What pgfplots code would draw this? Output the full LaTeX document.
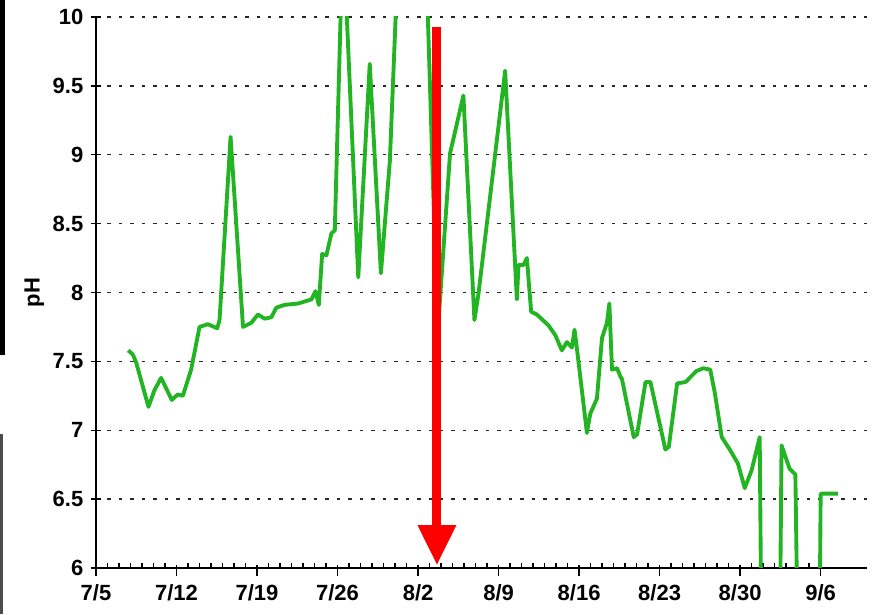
\documentclass[border=0pt]{standalone}
\usepackage{fontspec}
\setmainfont{Liberation Sans}
\usepackage{pgfplots}
\pgfplotsset{compat=1.18}
\usetikzlibrary{arrows.meta}

\definecolor{phgreen}{RGB}{34,180,34}

\begin{document}
\begin{tikzpicture}
% frame of the 874x614 px picture (1 px = 0.75pt)
\useasboundingbox (0,0) rectangle (655.5pt,460.5pt);
% remnants of the cropped neighbour at the left edge
\fill[black] (0,460.5pt) rectangle (3.75pt,194pt);
\fill[black!70] (0,135pt) rectangle (2.25pt,0);

\begin{axis}[
    at={(72pt,34.5pt)}, anchor=south west,
    scale only axis,
    width=578pt, height=413.25pt,
    xmin=0, xmax=67,
    ymin=6, ymax=10,
    axis x line*=bottom, axis y line*=left,
    axis line style={black, line width=1.4pt, -},
    xtick={0,7,...,63},
    xticklabels={7/5,7/12,7/19,7/26,8/2,8/9,8/16,8/23,8/30,9/6},
    minor x tick num=6,
    ytick={6,6.5,...,10},
    x tick style={black, line width=1pt},
    y tick style={black, line width=1pt},
    xtick align=inside,
    ytick align=center,
    major tick length=8pt,
    minor tick length=3.8pt,
    every major x tick/.append style={yshift=-6pt},
    ymajorgrids=true,
    grid style={black!85, line width=1pt, dash pattern=on 2.6pt off 6pt},
    /pgf/number format/assume math mode=true,
    ticklabel style={font=\fontsize{16.5}{18}\selectfont\bfseries},
    xticklabel style={yshift=-9pt},
    yticklabel style={xshift=-2pt},
    ylabel={pH},
    every axis y label/.style={at={(axis description cs:-0.08,0.5)},
        rotate=90, anchor=center, font=\fontsize{16.5}{18}\selectfont\bfseries},
]
\addplot[phgreen, line width=2.9pt, line join=round] coordinates {
(2.8,7.58)(3.2,7.55)(3.5,7.49)(4.56,7.17)(5.08,7.29)(5.66,7.38)(6.59,7.22)
(7.11,7.26)(7.55,7.25)(8.27,7.44)(9.0,7.75)(9.73,7.77)(10.54,7.74)(10.74,7.80)
(11.7,9.13)(12.78,7.75)(13.5,7.78)(14.08,7.84)(14.66,7.81)(15.24,7.82)
(15.68,7.89)(16.4,7.91)(17.57,7.92)(18.73,7.95)(19.08,8.01)(19.37,7.91)
(19.66,8.28)(20.03,8.27)(20.47,8.43)(20.76,8.45)(21.28,10.05)(21.78,10.05)
(22.8,8.11)(23.8,9.66)(24.77,8.14)(25.55,8.96)(26.05,10.0)(27.4,12.0)
(28.85,10.0)(29.7,7.7)(30.78,9.01)(31.94,9.43)(32.9,7.80)(33.25,7.99)
(35.57,9.61)(36.59,7.95)(36.73,8.20)(37.17,8.20)(37.46,8.25)(37.83,7.86)
(38.33,7.84)(39.35,7.76)(39.93,7.69)(40.5,7.58)(40.94,7.64)(41.38,7.60)
(41.6,7.73)(41.8,7.60)(42.68,6.98)(42.97,7.12)(43.55,7.23)(43.99,7.67)
(44.42,7.78)(44.63,7.92)(44.86,7.44)(45.3,7.45)(45.59,7.39)(45.73,7.37)
(46.75,6.95)(47.04,6.97)(47.77,7.35)(48.2,7.35)(49.5,6.86)(49.8,6.88)
(50.52,7.34)(51.25,7.35)(52.2,7.43)(52.8,7.45)(53.4,7.44)(53.8,7.27)
(54.4,6.95)(55.1,6.86)(55.8,6.76)(56.4,6.58)(57.0,6.71)(57.7,6.95)
(57.85,5.5)(59.45,5.5)(59.6,6.89)(60.3,6.72)(60.8,6.68)(61.0,5.5)
(62.9,5.5)(63.0,6.54)(64.5,6.54)
};
% red arrow
\draw[red, line width=6.75pt, -{Triangle[width=27pt,length=30pt]}]
    (axis cs:29.64,9.93) -- (axis cs:29.64,6.02);
\end{axis}
\end{tikzpicture}
\end{document}
